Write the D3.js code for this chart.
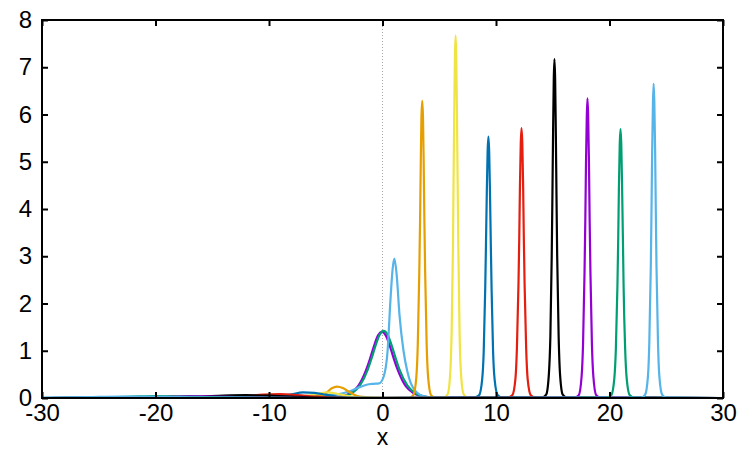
<!DOCTYPE html>
<html>
<head>
<meta charset="utf-8">
<script src="https://cdn.jsdelivr.net/npm/d3@7"></script>
<style>
  body { margin: 0; background: #fff; }
  svg { display: block; font-family: "Liberation Sans", Arial, Helvetica, sans-serif; }
</style>
</head>
<body>
<script>
const WIDTH = 750;
const HEIGHT = 450;
const LEFT = 42, RIGHT = 723, TOP = 20, BOTTOM = 398;

const xTicks = [-30, -20, -10, 0, 10, 20, 30];
const yTicks = [0, 1, 2, 3, 4, 5, 6, 7, 8];

// one [x, y] list per plotted curve, in plot order
const purple1 = [[-30,0],[-13,0.01],[-10,0.03],[-8,0.03],[-6.5,0.02],[-5.65,0.01],[-4.25,0.014],[-3.55,0.037],[-2.85,0.10],[-2.15,0.25],[-1.45,0.59],[-1.10,0.83],[-0.75,1.10],[-0.40,1.32],[-0.05,1.40],[0.30,1.32],[0.65,1.10],[1.00,0.83],[1.35,0.59],[2.05,0.25],[2.75,0.10],[3.45,0.037],[4.15,0.014],[5.55,0.002],[30,0]];
const green1 = [[-30,0],[-12,0.01],[-9.5,0.03],[-7.5,0.03],[-6.2,0.02],[-5.5,0.01],[-4.1,0.014],[-3.4,0.038],[-2.7,0.10],[-2.0,0.26],[-1.3,0.60],[-0.95,0.85],[-0.6,1.12],[-0.25,1.34],[0.1,1.42],[0.45,1.34],[0.8,1.12],[1.15,0.85],[1.5,0.60],[2.2,0.26],[2.9,0.10],[3.6,0.038],[4.3,0.014],[5.7,0.002],[30,0]];
const lightblue1 = [[-30,0],[-14,0.01],[-10,0.02],[-7,0.04],[-5,0.06],[-3.5,0.1],[-2.6,0.17],[-2.0,0.23],[-1.4,0.28],[-0.8,0.30],[-0.3,0.31],[0.1,0.45],[0.45,1.0],[0.7,2.07],[0.9,2.75],[1.05,2.95],[1.25,2.6],[1.5,1.75],[1.85,1.0],[2.2,0.55],[2.5,0.31],[3.0,0.12],[3.6,0.04],[4.5,0.01],[30,0]];
const orange = [[-30,0],[-6.5,0.01],[-5.5,0.05],[-5,0.1],[-4.5,0.2],[-4,0.24],[-3.5,0.21],[-3,0.14],[-2.5,0.07],[-2,0.03],[-1,0.01],[1.5,0.003],[2.33,0],[2.72,0.06],[2.98,0.44],[3.11,1.14],[3.24,2.64],[3.31,3.75],[3.37,4.95],[3.43,5.92],[3.50,6.29],[3.57,5.92],[3.63,4.95],[3.69,3.75],[3.76,2.64],[3.89,1.14],[4.02,0.44],[4.28,0.06],[4.67,0],[30,0]];
const yellow = [[-30,0],[-8,0.01],[-6.5,0.05],[-5.5,0.1],[-4.8,0.12],[-4,0.09],[-3,0.04],[-2,0.01],[0,0],[5.38,0.01],[5.74,0.08],[5.97,0.54],[6.09,1.39],[6.21,3.22],[6.26,4.57],[6.32,6.03],[6.38,7.22],[6.44,7.67],[6.50,7.22],[6.56,6.03],[6.62,4.57],[6.68,3.22],[6.79,1.39],[6.91,0.54],[7.15,0.08],[7.50,0.01],[30,0]];
const blue = [[-30,0],[-11,0.01],[-9,0.04],[-8,0.08],[-7,0.12],[-6,0.11],[-5,0.07],[-4,0.03],[-3,0.01],[0,0],[8.09,0.01],[8.50,0.055],[8.78,0.39],[8.92,1.00],[9.05,2.32],[9.12,3.30],[9.19,4.35],[9.26,5.20],[9.33,5.53],[9.40,5.20],[9.47,4.35],[9.54,3.30],[9.61,2.32],[9.74,1.00],[9.88,0.39],[10.16,0.055],[10.57,0.01],[30,0]];
const red = [[-30,0],[-14,0.01],[-12,0.04],[-10.5,0.07],[-9,0.08],[-7.5,0.06],[-6,0.03],[-4.5,0.01],[-2,0],[11.03,0.01],[11.43,0.056],[11.71,0.40],[11.84,1.03],[11.98,2.40],[12.05,3.40],[12.11,4.49],[12.18,5.37],[12.25,5.71],[12.32,5.37],[12.39,4.49],[12.45,3.40],[12.52,2.40],[12.66,1.03],[12.79,0.40],[13.07,0.056],[13.47,0.01],[30,0]];
const black = [[-30,0],[-19,0.01],[-16,0.03],[-14,0.05],[-12,0.06],[-10,0.05],[-8,0.03],[-6,0.01],[-3,0],[14.06,0.01],[14.42,0.07],[14.66,0.51],[14.79,1.30],[14.91,3.01],[14.97,4.27],[15.03,5.64],[15.09,6.75],[15.15,7.17],[15.21,6.75],[15.27,5.64],[15.33,4.27],[15.39,3.01],[15.52,1.30],[15.64,0.51],[15.88,0.07],[16.24,0.01],[30,0]];
const purple2 = [[-30,0],[-22,0.01],[-19,0.03],[-17,0.04],[-15,0.03],[-13,0.02],[-10,0.01],[-6,0],[16.90,0.01],[17.29,0.06],[17.54,0.45],[17.67,1.15],[17.80,2.66],[17.87,3.78],[17.93,4.99],[18.00,5.97],[18.06,6.34],[18.12,5.97],[18.19,4.99],[18.25,3.78],[18.32,2.66],[18.45,1.15],[18.58,0.45],[18.83,0.06],[19.22,0.01],[30,0]];
const green2 = [[-30,0],[-25,0.01],[-22,0.03],[-20,0.04],[-18,0.03],[-15,0.02],[-11,0.01],[-7,0],[19.74,0.01],[20.15,0.056],[20.42,0.40],[20.56,1.03],[20.70,2.39],[20.77,3.39],[20.83,4.47],[20.90,5.35],[20.97,5.69],[21.04,5.35],[21.11,4.47],[21.18,3.39],[21.24,2.39],[21.38,1.03],[21.52,0.40],[21.79,0.056],[22.20,0.01],[30,0]];
const lightblue2 = [[-30,0.01],[-26,0.02],[-23,0.03],[-21,0.03],[-18,0.02],[-14,0.01],[-9,0],[22.76,0.01],[23.13,0.066],[23.39,0.47],[23.51,1.20],[23.64,2.79],[23.70,3.96],[23.76,5.23],[23.83,6.26],[23.89,6.65],[23.95,6.26],[24.02,5.23],[24.08,3.96],[24.14,2.79],[24.27,1.20],[24.39,0.47],[24.65,0.066],[25.02,0.01],[30,0]];

const series = [purple1, green1, lightblue1, orange, yellow, blue, red, black, purple2, green2, lightblue2];
const colors = ['#9400D3', '#009E73', '#56B4E9', '#E69F00', '#F0E442', '#0072B2', '#E51E10', '#000000', '#9400D3', '#009E73', '#56B4E9'];

const svg = d3.select('body').append('svg')
    .attr('width', WIDTH)
    .attr('height', HEIGHT);

const x = d3.scaleLinear().domain([-30, 30]).range([LEFT, RIGHT]);
const y = d3.scaleLinear().domain([0, 8]).range([BOTTOM, TOP]);

// dotted zero line
svg.append('line')
    .attr('x1', x(0)).attr('x2', x(0))
    .attr('y1', y(8)).attr('y2', y(0))
    .attr('stroke', '#aaa')
    .attr('stroke-width', 1)
    .attr('stroke-dasharray', '1,2');

svg.append('defs').append('clipPath').attr('id', 'clip')
  .append('rect')
    .attr('x', LEFT).attr('y', TOP - 2)
    .attr('width', RIGHT - LEFT).attr('height', BOTTOM - TOP + 2);

const line = d3.line()
    .x(d => x(d[0]))
    .y(d => y(d[1]))
    .curve(d3.curveMonotoneX);

svg.append('g').attr('clip-path', 'url(#clip)')
  .selectAll('path')
  .data(series)
  .join('path')
    .attr('d', line)
    .attr('fill', 'none')
    .attr('stroke', (d, i) => colors[i])
    .attr('stroke-width', 2.2)
    .attr('stroke-linejoin', 'round');

// axes with inward ticks on all four sides
const tickStyle = g => {
  g.select('.domain').remove();
  g.selectAll('.tick line').attr('stroke', '#000').attr('stroke-width', 2);
  g.selectAll('.tick text').attr('fill', '#000').attr('font-size', 24);
};

svg.append('g')
    .attr('transform', `translate(0,${BOTTOM})`)
    .call(d3.axisBottom(x).tickValues(xTicks).tickFormat(d => String(d)).tickSizeInner(-6).tickPadding(6))
    .call(tickStyle);

svg.append('g')
    .attr('transform', `translate(0,${TOP})`)
    .call(d3.axisTop(x).tickValues(xTicks).tickFormat('').tickSizeInner(-6))
    .call(tickStyle);

svg.append('g')
    .attr('transform', `translate(${LEFT},0)`)
    .call(d3.axisLeft(y).tickValues(yTicks).tickFormat(d => String(d)).tickSizeInner(-6).tickPadding(10))
    .call(tickStyle);

svg.append('g')
    .attr('transform', `translate(${RIGHT},0)`)
    .call(d3.axisRight(y).tickValues(yTicks).tickFormat('').tickSizeInner(-6))
    .call(tickStyle);

svg.append('rect')
    .attr('x', LEFT).attr('y', TOP)
    .attr('width', RIGHT - LEFT).attr('height', BOTTOM - TOP)
    .attr('fill', 'none')
    .attr('stroke', '#000')
    .attr('stroke-width', 2);

svg.append('text')
    .attr('x', x(0))
    .attr('y', 445)
    .attr('text-anchor', 'middle')
    .attr('font-size', 23)
    .text('x');
</script>
</body>
</html>
